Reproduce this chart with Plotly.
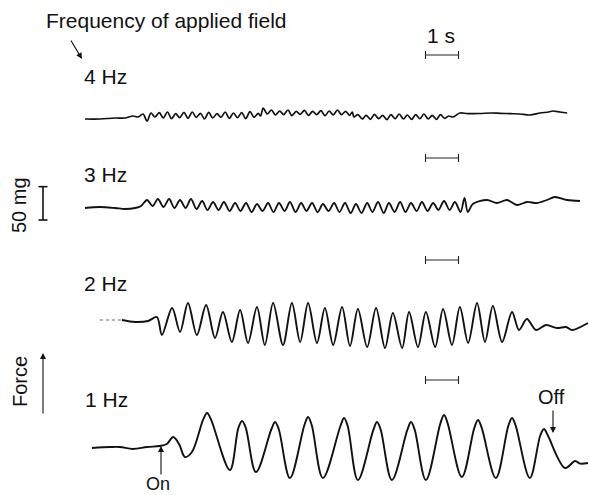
import plotly.graph_objects as go

# ---------------- data (time in s, force in mg relative to each trace's rest level) ----------------
t_4hz = [0.0, 0.45, 0.91, 1.21, 1.45, 1.61, 1.76, 1.88, 2.0,
         2.12, 2.25, 2.37, 2.50, 2.62, 2.75, 2.87, 3.00, 3.12, 3.25, 3.37, 3.50, 3.62, 3.75, 3.87,
         4.00, 4.12, 4.25, 4.37, 4.50, 4.62, 4.75, 4.87, 5.00, 5.12, 5.25, 5.32, 5.40,
         5.52, 5.65, 5.77, 5.90, 6.02, 6.15, 6.27, 6.40, 6.52, 6.65, 6.77, 6.90, 7.02, 7.15,
         7.27, 7.40, 7.52, 7.65, 7.77, 7.90, 8.02, 8.10, 8.15,
         8.27, 8.40, 8.52, 8.65, 8.77, 8.90, 9.02, 9.15, 9.27, 9.40, 9.52, 9.65, 9.77, 9.90,
         10.02, 10.15, 10.27, 10.40, 10.52, 10.65, 10.77, 10.90, 11.02, 11.15, 11.36, 11.6,
         11.97, 12.3, 12.58, 12.9, 13.18, 13.48, 13.79, 14.05, 14.18, 14.39, 14.61]
f_4hz = [-1.5, -1.5, 0, 0, 3, 1.5, 6, -4.5, 7.5,
         1.5, 8, 0, 9, -1, 6.5, 0.5, 8.5, -0.5, 9, 1, 7, -1.5, 8.5, 0,
         6.5, 1, 9, -0.5, 7.5, 0.5, 8, -1, 9.5, 1, 7, 3, 15,
         6, 12, 4.5, 10.5, 5, 12, 3.5, 10, 5.5, 11.5, 4, 10, 5, 11,
         3.5, 10.5, 4.5, 12, 5, 10, 4, 9, 1.5,
         5, -1.5, 4, -2, 5.5, -1, 4, -2.5, 5, -1, 6, -1.5, 4.5, -2,
         5, -1, 6, -1.5, 4, -2, 5, -0.5, 3, 1.5, 7.5, 6.5,
         6.75, 7.5, 7, 6.5, 6, 4.5, 7.5, 9, 10.5, 9, 7.5]

t_3hz = [0.0, 0.45, 0.91, 1.21, 1.52, 1.70,
         1.88, 2.05, 2.21, 2.38, 2.55, 2.71, 2.88, 3.05, 3.21, 3.38, 3.55, 3.71, 3.88, 4.05,
         4.21, 4.38, 4.55, 4.71, 4.88, 5.05, 5.21, 5.38, 5.55, 5.71, 5.88, 6.05, 6.21, 6.38,
         6.55, 6.71, 6.88, 7.05, 7.21, 7.38, 7.55, 7.71, 7.88, 8.05, 8.21, 8.38, 8.55, 8.71,
         8.88, 9.05, 9.21, 9.38, 9.55, 9.71, 9.88, 10.05, 10.21, 10.38, 10.55, 10.71, 10.88,
         11.05, 11.21, 11.38, 11.50, 11.60, 11.75,
         12.18, 12.48, 12.79, 13.09, 13.39, 13.70, 14.0, 14.24, 14.61, 15.0]
f_3hz = [-1.5, 0, -1.5, -3, -1.5, 1.5,
         10.5, 1.5, 12, 0, 12, -1.5, 10.5, -1.5, 12, -3, 9, -4.5, 7.5, -4.5,
         7.5, -6, 6, -6, 6, -7.5, 4.5, -6, 6, -7.5, 6, -6, 7.5, -7.5,
         6, -6, 6, -7.5, 4.5, -6, 6, -7.5, 6, -9, 4.5, -9, 6, -7.5,
         7.5, -9, 6, -7.5, 7.5, -7.5, 6, -6, 7.5, -6, 6, -4.5, 9,
         -4.5, 7.5, -7.5, 13.5, -7.5, 4.5,
         10.5, 6, 10.5, 3, 7.5, 6, 10.5, 15, 10.5, 9]

t_2hz_pre = [0.45, 1.12]
f_2hz_pre = [3, 3]
t_2hz = [1.12, 1.52, 1.91, 2.18, 2.33, 2.64, 2.88, 3.12, 3.39, 3.67, 3.94, 4.18, 4.45, 4.70,
         4.94, 5.21, 5.45, 5.70, 6.00, 6.27, 6.52, 6.76, 7.03, 7.27, 7.52, 7.79, 8.03, 8.27,
         8.55, 8.82, 9.09, 9.33, 9.61, 9.82, 10.09, 10.33, 10.61, 10.85, 11.12, 11.36, 11.61,
         11.88, 12.12, 12.36, 12.64, 12.94, 13.15, 13.39, 13.67, 13.97, 14.30, 14.58, 14.76, 15.24]
f_2hz = [3, 0, 1.5, 7.5, -19.5, 21, -15, 28.5, -19.5, 25.5, -24, 15, -30, 18,
         -31.5, 22.5, -34.5, 28.5, -34.5, 28.5, -30, 28.5, -31.5, 21, -34.5, 22.5, -36, 19.5,
         -37.5, 21, -39, 13.5, -39, 15, -37.5, 15, -37.5, 19.5, -34.5, 22.5, -31.5,
         28.5, -30, 24, -30, 15, -12, 4.5, -12, -4.5, -9, -7.5, -12, -1.5]

t_1hz = [0.21, 0.76, 1.06, 1.45, 1.88, 2.27, 2.48, 2.67, 2.85, 3.03, 3.24, 3.58, 3.70, 3.82,
         4.39, 4.65, 4.76, 4.87, 5.18, 5.65, 5.76, 5.87, 6.21, 6.65, 6.76, 6.87, 7.21, 7.74,
         7.85, 7.96, 8.27, 8.74, 8.85, 8.96, 9.30, 9.77, 9.88, 9.99, 10.33, 10.77, 10.88,
         10.99, 11.42, 11.80, 11.91, 12.02, 12.45, 12.83, 12.94, 13.05, 13.48, 13.80, 13.91,
         14.02, 14.55, 14.85, 15.0, 15.24]
f_1hz = [-1.5, 0, 0, -3, 0, 1.5, 4.5, 15, 4.5, -15, -7.5, 41, 51, 41,
         -34.5, 29, 39, 29, -37.5, 27, 37.5, 27, -46.5, 33, 45, 33, -46.5, 31.5,
         43.5, 31.5, -49.5, 26, 37.5, 26, -49.5, 26, 37.5, 26, -49.5, 35.5, 48,
         35.5, -45, 29, 40.5, 29, -46.5, 32, 43.5, 32, -46.5, 18, 27,
         18, -31.5, -21, -25, -24]

labels = ["4 Hz", "3 Hz", "2 Hz", "1 Hz"]
scale_time_s = 1.0
scale_force_mg = 50

# ---------------- layout helpers (positions only) ----------------
W, H = 589, 495
X0, SX = 85, 33.0          # pixel of t=0, pixels per second
SY = 1.5                   # mg per pixel


def t_at(px):
    return (px - X0) / SX


def y_at(py):
    return -SY * py


def paper_x(px):
    return px / W


def paper_y(py):
    return 1 - py / H


offsets = {"4 Hz": y_at(118), "3 Hz": y_at(207), "2 Hz": y_at(322), "1 Hz": y_at(447)}

fig = go.Figure()

line_style = dict(color="#111111", width=1.9, shape="spline", smoothing=0.9)

fig.add_trace(go.Scatter(x=t_4hz, y=[offsets["4 Hz"] + v for v in f_4hz], mode="lines",
                         line=dict(line_style, width=1.7), hoverinfo="skip"))
fig.add_trace(go.Scatter(x=t_3hz, y=[offsets["3 Hz"] + v for v in f_3hz], mode="lines",
                         line=dict(line_style, width=1.8), hoverinfo="skip"))
fig.add_trace(go.Scatter(x=t_2hz_pre, y=[offsets["2 Hz"] + v for v in f_2hz_pre], mode="lines",
                         line=dict(color="#666666", width=1, dash="dot"), hoverinfo="skip"))
fig.add_trace(go.Scatter(x=t_2hz, y=[offsets["2 Hz"] + v for v in f_2hz], mode="lines",
                         line=line_style, hoverinfo="skip"))
fig.add_trace(go.Scatter(x=t_1hz, y=[offsets["1 Hz"] + v for v in f_1hz], mode="lines",
                         line=dict(line_style, smoothing=1.0), hoverinfo="skip"))

shapes = []
# 1 s time scale bars
bar_t0 = t_at(425.5)
cap = 4 * SY
for py in (55, 158, 260, 380):
    yb = y_at(py)
    shapes.append(dict(type="line", xref="x", yref="y", x0=bar_t0, x1=bar_t0 + scale_time_s,
                       y0=yb, y1=yb, line=dict(color="#222222", width=1.2)))
    for xx in (bar_t0, bar_t0 + scale_time_s):
        shapes.append(dict(type="line", xref="x", yref="y", x0=xx, x1=xx, y0=yb - cap, y1=yb + cap,
                           line=dict(color="#222222", width=1.1)))
# 50 mg force scale bar
fx = t_at(43)
fy0 = y_at(220)
shapes.append(dict(type="line", xref="x", yref="y", x0=fx, x1=fx, y0=fy0, y1=fy0 + scale_force_mg,
                   line=dict(color="#111111", width=1.6)))
for yy in (fy0, fy0 + scale_force_mg):
    shapes.append(dict(type="line", xref="x", yref="y", x0=t_at(38.5), x1=t_at(47.5), y0=yy, y1=yy,
                       line=dict(color="#111111", width=1.6)))

FONT = "Liberation Sans, Arial, Helvetica, sans-serif"
ann = []


def text(s, px, py, size=21, xanchor="left", angle=0):
    ann.append(dict(text=s, x=paper_x(px), y=paper_y(py), xref="paper", yref="paper",
                    xanchor=xanchor, yanchor="middle", showarrow=False, textangle=angle,
                    font=dict(family=FONT, size=size, color="#111111")))


def arrow(hx, hy, tx, ty):
    ann.append(dict(text="", x=paper_x(hx), y=paper_y(hy), xref="paper", yref="paper",
                    ax=tx - hx, ay=ty - hy, axref="pixel", ayref="pixel", showarrow=True,
                    arrowhead=2, arrowsize=1.1, arrowwidth=1.1, arrowcolor="#111111"))


text("Frequency of applied field", 44, 20)
text(labels[0], 82, 76)
text(labels[1], 82, 174)
text(labels[2], 82, 283)
text(labels[3], 83, 399)
text("1 s", 441, 35, xanchor="center")
text("On", 158, 484, size=18, xanchor="center")
text("Off", 551, 397, size=20, xanchor="center")
text("50 mg", 19, 205, size=20, xanchor="center", angle=-90)
text("Force", 20, 382, size=20, xanchor="center", angle=-90)

arrow(82, 59, 70, 39)
arrow(161, 446, 161, 476)
arrow(553, 433, 553, 409)
arrow(43, 353, 43, 415)

fig.update_layout(
    width=W, height=H, margin=dict(l=0, r=0, t=0, b=0),
    paper_bgcolor="white", plot_bgcolor="white", showlegend=False,
    xaxis=dict(range=[t_at(0), t_at(W)], visible=False, fixedrange=True),
    yaxis=dict(range=[y_at(H), y_at(0)], visible=False, fixedrange=True),
    shapes=shapes, annotations=ann,
)

fig.write_html("out.html", config={"displayModeBar": False},
               post_script="document.body.style.margin='0';document.body.style.overflow='hidden';")
